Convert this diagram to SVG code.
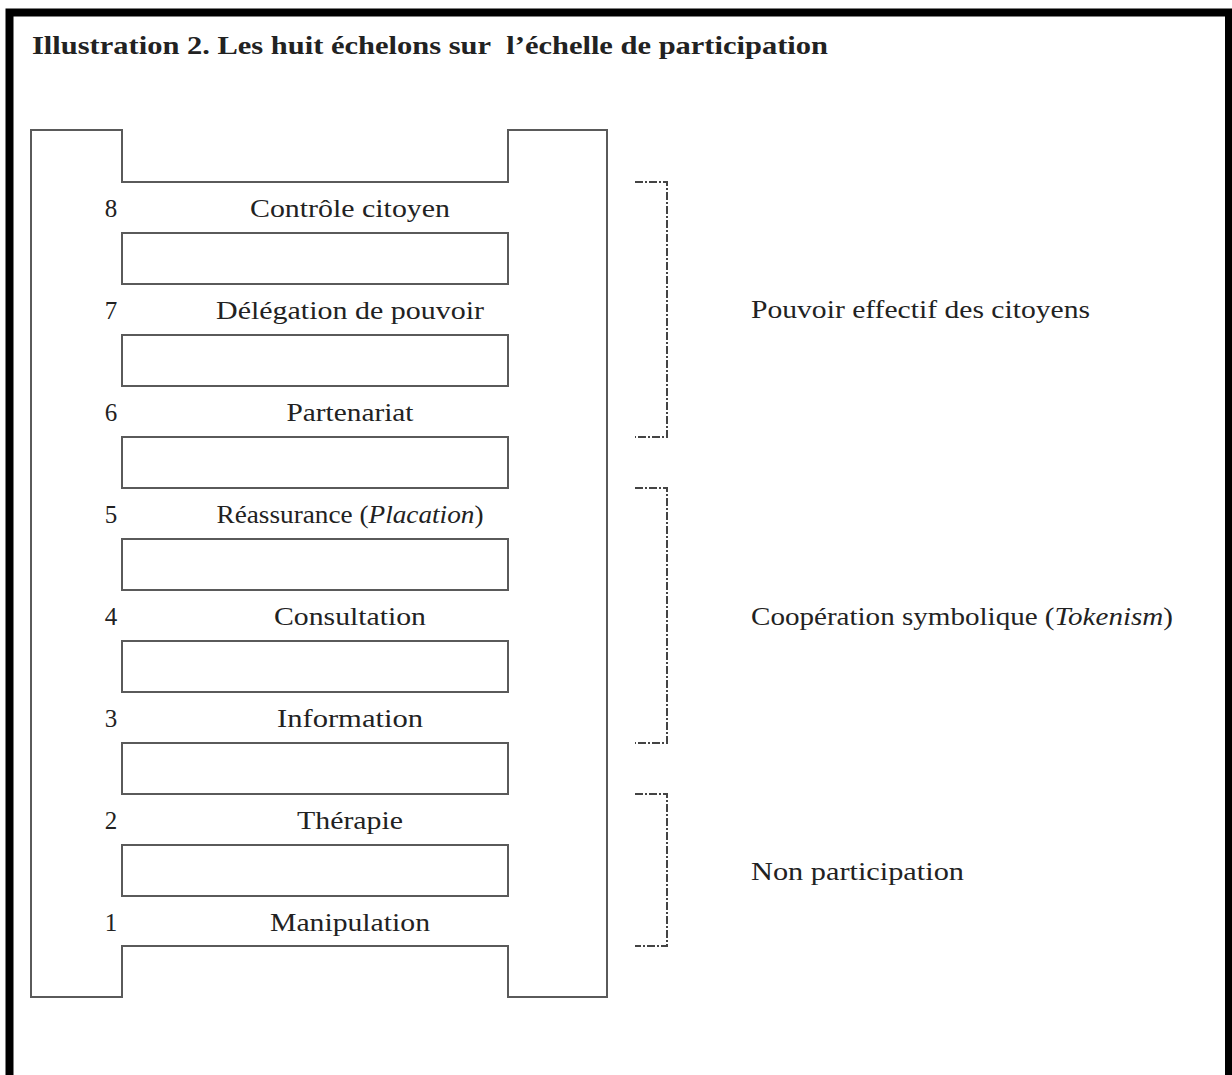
<svg xmlns="http://www.w3.org/2000/svg" width="1232" height="1075" viewBox="0 0 1232 1075">
<style>
.frame{fill:none;stroke:#5a5a5a;stroke-width:2}
.rung{fill:#fff;stroke:#5a5a5a;stroke-width:2}
.t{font-family:"Liberation Serif",serif;font-size:26px;fill:#222}
.num{font-family:"Liberation Serif",serif;font-size:25px;fill:#222;text-anchor:middle}
.lbl{font-family:"Liberation Serif",serif;font-size:26px;fill:#222;text-anchor:middle}
.br{fill:none;stroke:#444;stroke-width:2;stroke-dasharray:8 2 2 2}
.it{font-style:italic}
</style>
<rect x="0" y="0" width="1232" height="1075" fill="#fff"/>
<path d="M9.5,1075 V12.5 H1229 V1075" fill="none" stroke="#000" stroke-width="8"/>
<text id="title" x="32" y="54" class="t" font-size="27" font-weight="bold" textLength="796" lengthAdjust="spacingAndGlyphs">Illustration 2. Les huit échelons sur&#160; l’échelle de participation</text>
<g id="ladder">
<path class="frame" d="M31,130 H122 V182 H508 V130 H607 V997 H508 V946 H122 V997 H31 Z"/>
<rect class="rung" x="122" y="233" width="386" height="51"/>
<rect class="rung" x="122" y="335" width="386" height="51"/>
<rect class="rung" x="122" y="437" width="386" height="51"/>
<rect class="rung" x="122" y="539" width="386" height="51"/>
<rect class="rung" x="122" y="641" width="386" height="51"/>
<rect class="rung" x="122" y="743" width="386" height="51"/>
<rect class="rung" x="122" y="845" width="386" height="51"/>
</g>
<g id="step8"><text class="num" x="111" y="217">8</text><text class="lbl" x="350" y="217" textLength="200" lengthAdjust="spacingAndGlyphs">Contrôle citoyen</text></g>
<g id="step7"><text class="num" x="111" y="319">7</text><text class="lbl" x="350" y="319" textLength="268" lengthAdjust="spacingAndGlyphs">Délégation de pouvoir</text></g>
<g id="step6"><text class="num" x="111" y="421">6</text><text class="lbl" x="350" y="421" textLength="127" lengthAdjust="spacingAndGlyphs">Partenariat</text></g>
<g id="step5"><text class="num" x="111" y="523">5</text><text class="lbl" x="350" y="523" textLength="267" lengthAdjust="spacingAndGlyphs">Réassurance (<tspan class="it">Placation</tspan>)</text></g>
<g id="step4"><text class="num" x="111" y="625">4</text><text class="lbl" x="350" y="625" textLength="152" lengthAdjust="spacingAndGlyphs">Consultation</text></g>
<g id="step3"><text class="num" x="111" y="727">3</text><text class="lbl" x="350" y="727" textLength="146" lengthAdjust="spacingAndGlyphs">Information</text></g>
<g id="step2"><text class="num" x="111" y="829">2</text><text class="lbl" x="350" y="829" textLength="106" lengthAdjust="spacingAndGlyphs">Thérapie</text></g>
<g id="step1"><text class="num" x="111" y="931">1</text><text class="lbl" x="350" y="931" textLength="160" lengthAdjust="spacingAndGlyphs">Manipulation</text></g>
<g id="brackets">
<path class="br" d="M635,182 H667 V437 H635"/>
<path class="br" d="M635,488 H667 V743 H635"/>
<path class="br" d="M635,794 H667 V946 H635"/>
</g>
<g id="group-high"><text class="t" x="751" y="318" textLength="339" lengthAdjust="spacingAndGlyphs">Pouvoir effectif des citoyens</text></g>
<g id="group-mid"><text class="t" x="751" y="625" textLength="422" lengthAdjust="spacingAndGlyphs">Coopération symbolique (<tspan class="it">Tokenism</tspan>)</text></g>
<g id="group-low"><text class="t" x="751" y="880" textLength="213" lengthAdjust="spacingAndGlyphs">Non participation</text></g>
</svg>
